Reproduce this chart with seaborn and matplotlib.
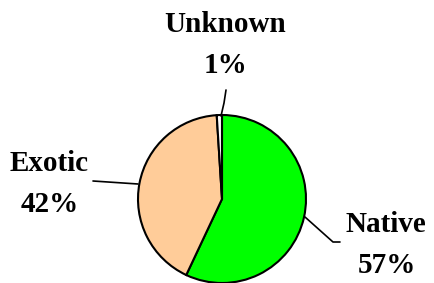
import seaborn as sns
import matplotlib.pyplot as plt

labels = ["Native", "Exotic", "Unknown"]
values = [57, 42, 1]
colors = ["#00FF00", "#FFCC99", "#FFFFFF"]

sns.set_style("white")
plt.rcParams['font.family'] = ['Liberation Serif', 'DejaVu Serif']
plt.rcParams['text.color'] = 'black'

W, H = 434, 283
fig = plt.figure(figsize=(W / 100, H / 100), dpi=100)
ax = fig.add_axes([0, 0, 1, 1])

def fy(y):
    return H - y

# pie centre/radius in pixel units
ax.pie(values, colors=colors, startangle=90, counterclock=False,
       center=(222, fy(199)), radius=84,
       wedgeprops=dict(edgecolor="black", linewidth=1.5))
ax.set_xlim(0, W)
ax.set_ylim(0, H)
ax.set_aspect('equal', adjustable='box')
ax.axis('off')

# leader lines
ax.plot([226, 224, 221], [fy(90), fy(103), fy(116)], color="black", lw=1.2, clip_on=False)
ax.plot([93, 138], [fy(181), fy(184)], color="black", lw=1.2, clip_on=False)
ax.plot([305, 333, 340], [fy(217), fy(242), fy(242)], color="black", lw=1.2, clip_on=False)

txt = dict(fontsize=21, fontweight='bold', ha='center', va='baseline', color='black')
label_pos = {"Unknown": (225, 32), "Exotic": (49, 171), "Native": (386, 232)}
for lab, val in zip(labels, values):
    x, y = label_pos[lab]
    ax.text(x, fy(y), lab, **txt)
    ax.text(x + 1, fy(y + 41), f"{val}%", **txt)

fig.savefig("out.png", dpi=100)
